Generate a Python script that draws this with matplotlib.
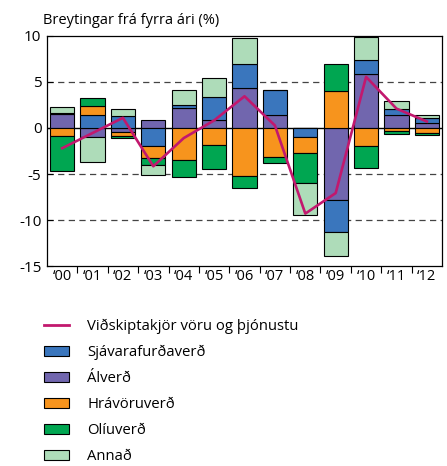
import numpy as np
import matplotlib
matplotlib.use("Agg")
import matplotlib.pyplot as plt
from matplotlib.patches import Patch
from matplotlib.lines import Line2D

plt.rcParams['font.family'] = ['Open Sans', 'DejaVu Sans']

# data (% change from previous year)
years = ['\u201800', '\u201801', '\u201802', '\u201803', '\u201804', '\u201805', '\u201806',
         '\u201807', '\u201808', '\u201809', '\u201810', '\u201811', '\u201812']
alverd = [1.53, -0.95, -0.47, 0.87, 2.18, 0.87, 4.29, 1.38, 0.0, -7.85, 5.9, 1.4, 0.56]
sjavar = [0.1, 1.38, 1.35, -1.93, 0.29, 2.51, 2.69, 2.69, -0.95, -3.45, 1.53, 0.69, 0.5]
hravoru = [-0.84, 1.02, -0.36, -1.35, -3.45, -1.85, -5.27, -3.13, -1.82, 4.0, -1.96, -0.3, -0.55]
oliu = [-3.8, 0.87, -0.29, -0.76, -1.85, -2.58, -1.27, -0.69, -3.24, 2.98, -2.36, -0.35, -0.25]
annad = [0.62, -2.8, 0.73, -1.05, 1.67, 2.0, 2.84, 0.0, -3.45, -2.65, 2.4, 0.8, 0.4]
vidskiptakjor = [-2.2, -0.55, 1.1, -4.16, -1.1, 0.82, 3.44, 0.27, -9.3, -7.07, 5.55, 2.1, 0.7]

c_sjavar = '#3a76bd'
c_al = '#7166ae'
c_hra = '#f7941d'
c_oliu = '#00a651'
c_annad = '#aedcb9'
c_line = '#c2186e'

fig = plt.figure(figsize=(4.47, 4.66), dpi=100)
ax = fig.add_axes([0.105, 0.429, 0.884, 0.494])

x = np.arange(len(years))
pos = np.zeros(len(years))
neg = np.zeros(len(years))
# stacking order seen in the bars: Ál nearest zero, then Sjávar, Hrávöru, Olía, Annað
for vals, col in [(alverd, c_al), (sjavar, c_sjavar), (hravoru, c_hra), (oliu, c_oliu), (annad, c_annad)]:
    v = np.array(vals)
    bottom = np.where(v >= 0, pos, neg)
    ax.bar(x, v, width=0.8, bottom=bottom, color=col, edgecolor='black', linewidth=0.8, zorder=3)
    pos = pos + np.where(v > 0, v, 0)
    neg = neg + np.where(v < 0, v, 0)

ax.plot(x, vidskiptakjor, color=c_line, linewidth=1.9, zorder=4)

for yy in [5, -5, -10]:
    ax.axhline(yy, color='#444444', linestyle=(0, (5, 3.5)), linewidth=0.9, zorder=1)
ax.axhline(0, color='black', linewidth=1.0, zorder=2)

ax.set_xlim(-0.5, len(years) - 0.5)
ax.set_ylim(-15, 10)
ax.set_yticks([10, 5, 0, -5, -10, -15])
ax.set_yticklabels(['10', '5', '0', '-5', '-10', '-15'])
ax.tick_params(axis='y', direction='in', length=4.5, width=0.8, labelsize=11, pad=4)
ax.set_xticks(x)
ax.set_xticklabels(years, fontsize=10.5)
ax.tick_params(axis='x', length=0, pad=2)
ax.set_xticks(np.arange(0.5, len(years) - 1, 1), minor=True)
ax.tick_params(axis='x', which='minor', direction='out', length=5, width=0.8)
for s in ax.spines.values():
    s.set_linewidth(0.9)

fig.text(0.097, 0.955, 'Breytingar frá fyrra ári (%)', fontsize=10.5, ha='left', va='center')

handles = [
    Line2D([0], [0], color=c_line, linewidth=2),
    Patch(facecolor=c_sjavar, edgecolor='black', linewidth=0.8),
    Patch(facecolor=c_al, edgecolor='black', linewidth=0.8),
    Patch(facecolor=c_hra, edgecolor='black', linewidth=0.8),
    Patch(facecolor=c_oliu, edgecolor='black', linewidth=0.8),
    Patch(facecolor=c_annad, edgecolor='black', linewidth=0.8),
]
labels = ['Viðskiptakjör vöru og þjónustu', 'Sjávarafurðaverð', 'Álverð',
          'Hrávöruverð', 'Olíuverð', 'Annað']
fig.legend(handles, labels, loc='upper left', bbox_to_anchor=(0.085, 0.329),
           frameon=False, fontsize=10.7, handlelength=1.7, handleheight=0.7,
           handletextpad=1.2, labelspacing=0.74, borderaxespad=0)

fig.savefig('out.png', dpi=100)
